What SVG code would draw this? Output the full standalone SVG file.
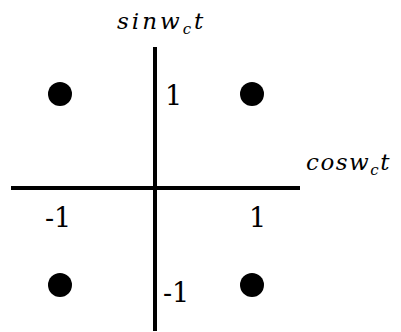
<svg xmlns="http://www.w3.org/2000/svg" width="401" height="332" viewBox="0 0 401 332">
<style>
.ax{stroke:#000;stroke-width:4;fill:none}
.dot{fill:#000}
.num{font-size:27px;fill:#000}
.math{font-style:italic;font-size:23px;fill:#000}
.sub{font-size:15px}
</style>
<rect width="401" height="332" fill="#fff"/>
<g id="axes">
<line class="ax" x1="11" y1="188" x2="300" y2="188"/>
<line class="ax" x1="155" y1="47" x2="155" y2="331"/>
</g>
<g id="p1"><circle class="dot" cx="60" cy="94" r="12"/></g>
<g id="p2"><circle class="dot" cx="252" cy="94" r="12"/></g>
<g id="p3"><circle class="dot" cx="60" cy="285" r="12"/></g>
<g id="p4"><circle class="dot" cx="252" cy="285" r="12"/></g>
<g id="labels">
<text class="math" x="117" y="29" font-family="DejaVu Serif, serif" letter-spacing="3">sinw<tspan class="sub" dy="5">c</tspan><tspan dy="-5">t</tspan></text>
<text class="math" x="306" y="170" font-family="DejaVu Serif, serif" letter-spacing="1.5">cosw<tspan class="sub" dy="5">c</tspan><tspan dy="-5">t</tspan></text>
<text class="num" x="165" y="105" font-family="DejaVu Serif, serif">1</text>
<text class="num" x="45" y="227" font-family="DejaVu Serif, serif">-1</text>
<text class="num" x="249" y="227" font-family="DejaVu Serif, serif">1</text>
<text class="num" x="163" y="302" font-family="DejaVu Serif, serif">-1</text>
</g>
</svg>
